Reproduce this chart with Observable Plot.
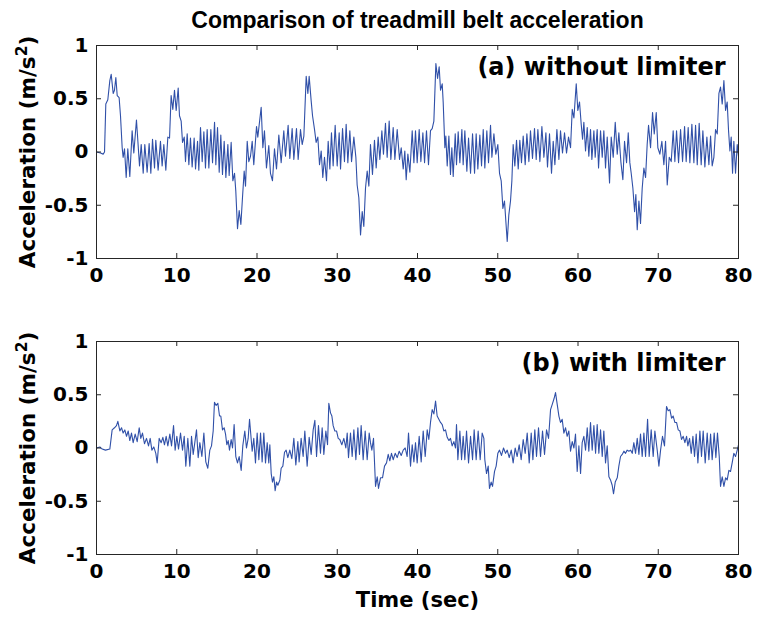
<!DOCTYPE html>
<html><head><meta charset="utf-8">
<script src="https://cdn.jsdelivr.net/npm/d3@7"></script>
<script src="https://cdn.jsdelivr.net/npm/@observablehq/plot@0.6"></script>
<style>
body{margin:0;background:#fff;}
#chart{position:relative;width:762px;height:625px;overflow:hidden;background:#fff;}
#chart svg{position:absolute;left:0;overflow:visible;}
</style></head><body><div id="chart"></div>
<script>
const title = "Comparison of treadmill belt acceleration";
const panelLabels = ["(a) without limiter", "(b) with limiter"];
const yLabelParts = ["Acceleration (m/s", "2", ")"];
const xLabel = "Time (sec)";
const xTicks = [0, 10, 20, 30, 40, 50, 60, 70, 80];
const yTicks = [-1, -0.5, 0, 0.5, 1];

// [time (s), acceleration (m/s^2)]
const withoutLimiter = [
[0,0],[0.5,-0.01],[0.83,-0.02],[1.0,0],[1.16,0.45],[1.41,0.49],[1.66,0.67],[1.83,0.73],[2.08,0.55],[2.24,0.58],
[2.41,0.70],[2.58,0.53],[2.82,0.51],[2.99,0.34],[3.2,0.04],[3.32,-0.05],[3.49,0.03],[3.7,-0.24],[3.9,0.03],[4.15,-0.23],
[4.44,0.2],[4.65,-0.01],[4.98,0.3],[5.36,-0.13],[5.57,0.07],[5.82,-0.2],[6.02,0.07],[6.31,-0.19],[6.56,0.08],[6.77,-0.2],
[6.98,0.12],[7.23,-0.15],[7.39,0.11],[7.68,-0.17],[7.97,0.1],[8.18,-0.13],[8.39,0.07],[8.64,-0.17],[8.89,0.14],[9.1,0.13],
[9.3,0.53],[9.51,0.4],[9.72,0.58],[9.93,0.39],[10.18,0.6],[10.34,0.34],[10.55,0.29],[10.72,0.09],[10.93,0.14],[11.09,-0.09],
[11.3,0.17],[11.51,-0.12],[11.71,0.13],[11.92,-0.14],[12.17,0.13],[12.34,-0.16],[12.59,0.1],[12.75,-0.17],[12.96,0.23],[13.17,-0.09],
[13.38,0.19],[13.58,-0.15],[13.79,0.21],[14.0,-0.15],[14.25,0.21],[14.46,-0.1],[14.71,0.28],[14.87,-0.12],[15.08,0.23],[15.29,-0.19],
[15.49,0.16],[15.7,-0.21],[15.91,0.1],[16.12,-0.24],[16.37,0.07],[16.53,-0.22],[16.78,0.09],[16.99,-0.27],[17.2,-0.2],[17.36,-0.37],
[17.57,-0.72],[17.78,-0.55],[17.99,-0.68],[18.19,-0.43],[18.4,-0.18],[18.57,-0.32],[18.78,0.1],[18.98,-0.09],
[19.19,-0.04],[19.4,0.1],[19.6,-0.12],[19.94,0.24],[20.1,0.14],[20.52,0.42],[20.73,0.04],[20.93,0.2],[21.18,-0.15],[21.47,0.06],
[21.68,-0.2],[21.93,-0.27],[22.18,0.03],[22.43,-0.16],[22.72,0.16],[23.01,-0.1],[23.34,0.2],[23.55,-0.04],[23.88,0.25],[24.09,-0.06],
[24.38,0.22],[24.59,-0.07],[24.92,0.22],[25.13,-0.07],[25.42,0.21],[25.63,0.07],[25.84,0.15],[26.13,0.71],[26.34,0.55],[26.5,0.71],
[26.75,0.48],[26.92,0.34],[27.17,0.21],[27.37,0.09],[27.58,0.14],[27.79,-0.12],[28.0,0.01],[28.2,-0.24],[28.41,-0.05],[28.66,-0.27],
[28.87,0.1],[29.08,-0.16],[29.28,0.18],[29.49,-0.13],[29.74,0.25],[29.99,-0.13],[30.24,0.18],[30.41,-0.16],[30.66,0.22],[30.9,-0.09],
[31.11,0.26],[31.32,-0.1],[31.57,0.2],[31.78,-0.09],[32.07,0.14],[32.32,-0.05],[32.48,-0.31],[32.69,-0.43],[32.9,-0.78],[33.11,-0.56],
[33.31,-0.7],[33.52,-0.34],[33.73,-0.18],[33.94,-0.32],[34.14,0.07],[34.39,-0.21],[34.64,0.11],[34.85,-0.15],[35.1,0.14],[35.31,-0.07],
[35.56,0.2],[35.76,-0.02],[36.01,0.27],[36.22,-0.05],[36.47,0.29],[36.68,-0.07],[36.97,0.23],[37.18,-0.07],[37.47,0.21],[37.76,-0.07],
[37.97,0.04],[38.22,-0.16],[38.42,0.01],[38.59,-0.26],[38.8,-0.02],[39.05,-0.19],
[39.34,0.2],[39.55,-0.1],[39.75,0.2],[39.96,-0.1],[40.21,0.21],[40.42,-0.09],[40.67,0.18],[40.88,-0.1],[41.12,0.2],[41.37,-0.12],
[41.62,0.2],[41.83,0.22],[42.04,0.29],[42.29,0.83],[42.5,0.69],[42.7,0.8],[42.87,0.58],[43.08,0.64],[43.2,0.47],[43.41,0.04],
[43.53,0.15],[43.7,-0.13],[43.91,0.15],[44.11,-0.21],[44.28,0.04],[44.45,-0.23],[44.7,0.17],[44.86,-0.12],[45.07,0.19],[45.28,-0.1],
[45.53,0.21],[45.69,-0.12],[45.9,0.2],[46.15,-0.18],[46.36,0.13],[46.61,-0.2],[46.86,0.17],[47.11,-0.2],[47.31,0.17],[47.52,-0.16],
[47.77,0.16],[47.98,-0.13],[48.19,0.21],[48.39,-0.15],[48.64,0.2],[48.85,-0.1],[49.1,0.25],[49.27,-0.05],[49.52,0.17],[49.76,-0.02],
[50.01,0.07],[50.22,-0.2],[50.43,-0.27],[50.64,-0.53],[50.84,-0.46],[51.18,-0.84],[51.38,-0.59],[51.59,-0.46],[51.76,-0.27],[51.92,0.07],
[52.13,-0.13],[52.34,0.11],[52.55,-0.16],[52.75,0.11],[52.96,-0.1],[53.17,0.15],[53.42,-0.12],[53.63,0.17],[53.88,-0.09],[54.08,0.2],
[54.33,-0.06],[54.58,0.22],[54.79,-0.07],[55.0,0.21],[55.25,-0.09],[55.5,0.24],[55.75,-0.05],[56.0,0.18],[56.2,-0.14],[56.45,0.17],
[56.7,-0.2],[56.91,0.1],[57.12,-0.12],[57.37,0.21],[57.62,-0.07],[57.82,0.2],[58.07,-0.01],[58.32,0.18],[58.57,-0.01],[58.82,0.14],
[59.07,0.04],
[59.28,0.4],[59.49,0.32],[59.78,0.64],[59.98,0.39],[60.19,0.47],[60.4,0.26],[60.57,0.12],[60.73,0.28],[60.94,0.01],[61.15,0.23],
[61.35,-0.04],[61.56,0.21],[61.73,-0.07],[61.98,0.2],[62.14,-0.05],[62.39,0.21],[62.56,-0.15],[62.81,0.2],[63.02,-0.05],[63.22,0.2],
[63.43,-0.15],[63.64,0.14],[63.93,-0.29],[64.14,0.14],[64.39,-0.05],[64.64,0.28],[64.89,-0.02],[65.09,0.18],[65.34,-0.09],[65.59,-0.26],
[65.8,0.1],[66.05,-0.1],[66.26,0.18],[66.46,-0.1],[66.63,-0.2],[66.84,-0.34],[67.05,-0.56],[67.21,-0.4],[67.38,-0.73],[67.59,-0.46],
[67.79,-0.67],[68.0,-0.34],[68.21,-0.15],[68.42,-0.24],[68.62,0.07],[68.79,0.25],[69.04,0.04],[69.29,0.37],[69.5,0.17],[69.75,0.37],
[69.95,0.04],[70.2,-0.02],[70.45,0.1],[70.7,-0.12],[70.91,0.1],[71.12,-0.31],[71.37,-0.05],[71.62,-0.09],[71.86,0.2],[72.07,-0.09],
[72.28,0.2],[72.53,-0.1],[72.78,0.21],[73.03,-0.09],[73.28,0.24],[73.48,-0.09],[73.73,0.23],[73.94,-0.1],[74.19,0.26],[74.44,-0.1],
[74.65,0.25],[74.86,-0.12],[75.1,0.27],[75.35,-0.12],[75.56,0.2],[75.81,-0.14],[76.06,0.14],[76.31,-0.12],[76.52,0.15],[76.72,-0.13],
[76.93,-0.05],[77.14,0.21],[77.35,0.17],[77.56,0.55],[77.76,0.61],[77.97,0.45],[78.18,0.67],[78.39,0.39],[78.59,0.47],[78.76,0.2],
[78.93,0.01],[79.09,0.14],[79.26,-0.2],[79.42,0.1],[79.63,-0.2],[79.84,0.07],[80,-0.04]
];

const withLimiter = [
[0,0],[0.42,0.01],[0.71,-0.01],[1.12,-0.02],[1.66,-0.01],[1.95,0.17],[2.24,0.19],[2.49,0.21],[2.66,0.25],[2.91,0.16],
[3.12,0.19],[3.32,0.14],[3.53,0.17],[3.74,0.11],[3.95,0.16],[4.15,0.07],[4.36,0.14],[4.57,0.05],[4.82,0.13],[5.07,0.06],
[5.32,0.19],[5.52,0.09],[5.73,0.14],[5.98,0.04],[6.23,0.09],[6.48,0.02],[6.69,0.09],[6.9,-0.02],[7.14,0.01],[7.39,-0.05],
[7.56,-0.14],[7.81,0.09],[8.06,0.05],[8.27,0.1],[8.47,0.03],[8.68,0.11],[8.89,0.02],[9.14,0.13],[9.35,0.02],[9.6,0.21],
[9.8,-0.02],[10.01,0.11],[10.22,-0.01],[10.47,0.14],[10.72,-0.02],[10.93,0.11],[11.13,-0.17],[11.38,0.09],[11.63,-0.17],[11.84,0.11],
[12.05,-0.06],[12.25,0.05],[12.46,0.17],[12.67,-0.09],[12.88,0.05],[13.13,-0.08],[13.38,0.14],[13.62,-0.13],[13.87,-0.19],[14.12,-0.02],
[14.33,0.02],[14.54,0.16],[14.7,0.43],[14.91,0.4],[15.12,0.42],[15.33,0.3],[15.49,0.3],[15.7,0.17],[15.91,0.19],[16.08,0.13],
[16.24,0.03],[16.41,0.07],[16.57,-0.02],[16.78,0.08],[16.95,0],[17.15,0.22],[17.36,-0.08],[17.57,-0.14],[17.78,-0.08],[18.03,-0.21],
[18.23,0.02],[18.48,0.16],[18.69,0],[18.9,0.09],[19.07,0.27],
[19.4,-0.03],[19.6,0.09],[19.81,-0.14],[20.02,0.14],[20.23,-0.11],[20.44,0.14],[20.64,-0.13],[20.85,0.14],[21.06,-0.14],[21.27,0.05],
[21.47,-0.14],[21.6,0.03],[21.77,-0.24],[21.93,-0.32],[22.1,-0.27],[22.26,-0.4],[22.43,-0.32],[22.6,-0.35],[22.85,-0.3],[23.01,-0.19],
[23.22,-0.17],[23.43,-0.04],[23.63,-0.02],[23.84,-0.09],[24.09,-0.02],[24.34,-0.1],[24.59,0.09],[24.84,-0.16],[25.09,0.06],[25.25,-0.13],
[25.5,0.09],[25.75,-0.08],[25.96,0.16],[26.25,-0.17],[26.5,0.1],[26.75,-0.06],[27.0,0.17],[27.21,0.26],[27.42,-0.08],[27.66,0.21],
[27.91,-0.05],[28.12,0.19],[28.33,-0.06],[28.58,0.16],[28.79,0.03],[28.95,0.42],[29.16,0.33],[29.33,0.3],[29.49,0.21],[29.7,0.16],
[29.91,0.16],[30.12,0.09],[30.32,0.08],[30.57,0.03],[30.82,0.09],[31.07,0],[31.24,0.14],[31.4,-0.09],[31.65,0.14],[31.86,-0.08],
[32.07,0.17],[32.32,-0.11],[32.57,0.19],[32.77,-0.06],[32.98,0.21],[33.23,-0.11],[33.48,0.16],[33.73,-0.11],[33.98,0.14],[34.14,0.05],
[34.31,-0.02],[34.52,0.09],[34.77,-0.36],[34.98,-0.27],[35.14,-0.38],[35.39,-0.28],[35.64,-0.28],[35.89,-0.17],[36.14,-0.14],[36.35,-0.06],
[36.55,-0.12],[36.76,-0.05],[36.97,-0.11],[37.22,-0.05],[37.47,-0.09],[37.72,-0.03],[37.97,-0.07],[38.22,-0.02],[38.47,0],[38.71,-0.08],
[38.88,0.14],
[39.13,-0.17],[39.34,0.03],[39.55,-0.13],[39.75,0.05],[39.96,-0.14],[40.21,0.11],[40.46,-0.13],[40.71,0.16],[40.96,-0.08],[41.21,0.17],
[41.41,0.08],[41.62,0.24],[41.83,0.36],[42.04,0.32],[42.25,0.44],[42.45,0.3],[42.66,0.27],[42.87,0.24],[43.08,0.22],[43.28,0.16],
[43.49,0.17],[43.7,0.1],[43.91,0.07],[44.11,0.09],[44.32,0.02],[44.53,0.06],[44.74,0],[44.86,0.22],[45.03,-0.11],[45.28,0.16],
[45.49,-0.11],[45.69,0.11],[45.9,-0.11],[46.11,0.16],[46.36,-0.14],[46.61,0.11],[46.86,-0.11],[47.06,0.17],[47.31,-0.11],[47.56,0.16],
[47.81,-0.11],[48.06,0.14],[48.27,0.09],[48.39,-0.11],[48.6,-0.24],[48.81,-0.17],[48.97,-0.38],[49.18,-0.32],[49.35,-0.36],[49.6,-0.22],
[49.8,-0.17],[50.01,-0.05],[50.22,-0.02],[50.47,-0.07],[50.72,0],[50.97,-0.05],[51.18,-0.02],[51.43,-0.09],[51.68,-0.02],[51.92,-0.14],
[52.17,0],[52.42,-0.08],[52.67,0.03],[52.92,-0.11],[53.17,0.08],[53.42,-0.05],[53.67,0.14],[53.92,-0.14],[54.17,0.14],[54.38,-0.11],
[54.62,0.17],[54.83,-0.08],[55.08,0.19],[55.33,-0.08],[55.58,0.16],[55.83,-0.06],[56.08,0.17],[56.33,0.09],[56.58,0.36],[56.79,0.41],
[57.0,0.46],[57.2,0.52],[57.41,0.41],[57.62,0.3],[57.82,0.24],[58.03,0.27],[58.24,0.14],[58.45,0.19],[58.65,0.11],[58.86,0.16],
[59.07,-0.03],[59.28,0.06],[59.49,0],[59.69,0.13],[59.9,-0.22],[60.11,0.02],[60.32,-0.24],[60.52,0.05],[60.73,0.11],[60.94,-0.02],
[61.15,0.19],[61.35,-0.03],[61.56,0.24],[61.77,-0.02],[61.98,0.21],[62.19,-0.05],[62.39,0.22],[62.6,-0.05],[62.81,0.17],[63.02,-0.08],
[63.22,0.16],[63.43,-0.14],[63.64,0.02],[63.85,-0.27],[64.05,-0.3],[64.26,-0.35],[64.43,-0.43],[64.64,-0.32],[64.89,-0.28],[65.09,-0.17],
[65.3,-0.08],[65.51,-0.06],[65.72,-0.03],[65.92,-0.05],[66.13,-0.02],[66.34,-0.03],[66.55,-0.02],[66.76,-0.05],[66.96,0.05],[67.17,-0.05],
[67.38,0.09],[67.59,-0.06],[67.79,0.13],[68.0,-0.08],[68.21,0.14],[68.42,-0.08],[68.67,0.27],[68.87,-0.08],[69.12,0.17],[69.37,-0.08],
[69.58,0.16],[69.87,-0.02],[70.08,-0.17],[70.29,-0.02],[70.53,0.11],[70.78,0.02],[71.03,0.39],[71.24,0.35],[71.45,0.36],[71.66,0.28],
[71.86,0.3],[72.07,0.24],[72.28,0.24],[72.49,0.17],[72.7,0.16],[72.9,0.08],[73.11,0.11],[73.32,0.05],[73.53,0.11],[73.69,0.02],
[73.9,0.09],[74.11,-0.05],[74.32,0.11],[74.52,-0.08],[74.73,0.13],[74.94,-0.14],[75.19,0.16],[75.39,-0.08],[75.6,0.16],[75.85,-0.14],
[76.1,0.14],[76.31,-0.11],[76.52,0.13],[76.72,-0.11],[76.97,0.14],[77.18,-0.09],[77.38,0.14],[77.6,-0.08],[77.76,-0.36],[77.97,-0.27],
[78.18,-0.36],[78.39,-0.28],[78.59,-0.3],[78.8,-0.21],[79.01,-0.22],[79.21,-0.14],[79.42,-0.05],[79.63,-0.08],[79.84,-0.02],[80,0.03]
];

const W = 762, ML = 96, MR = 24;
const lineColor = "#3050a8";
const axisColor = "#262626";
const mainFont = "'DejaVu Sans', sans-serif";
const titleFont = "'Liberation Sans', Arial, sans-serif";
const yLabelText = yLabelParts.join("");

function panel({data, label, height, marginTop, marginBottom, extras}) {
  const innerH = height - marginTop - marginBottom;
  const innerW = W - ML - MR;
  return Plot.plot({
    width: W, height, marginLeft: ML, marginRight: MR, marginTop, marginBottom,
    style: {fontFamily: mainFont, fontWeight: "bold", fontSize: "20px", color: "#000", background: "transparent", overflow: "visible"},
    x: {domain: [0, 80]},
    y: {domain: [-1, 1]},
    marks: [
      Plot.line(data, {x: d => d[0], y: d => d[1], stroke: lineColor, strokeWidth: 1.1}),
      Plot.frame({stroke: axisColor, strokeWidth: 1}),
      Plot.tickX(xTicks, {x: d => d, stroke: axisColor, insetTop: innerH - 5}),
      Plot.tickX(xTicks, {x: d => d, stroke: axisColor, insetBottom: innerH - 5}),
      Plot.tickY(yTicks, {y: d => d, stroke: axisColor, insetRight: innerW - 5}),
      Plot.tickY(yTicks, {y: d => d, stroke: axisColor, insetLeft: innerW - 5}),
      Plot.axisX({ticks: xTicks, tickSize: 0, tickPadding: 9, tickFormat: d => String(d), label: null, fill: "#000"}),
      Plot.axisY({ticks: yTicks, tickSize: 0, tickPadding: 8, tickFormat: d => String(d), label: null, fill: "#000"}),
      Plot.text([yLabelText], {frameAnchor: "left", dx: -68, rotate: -90, textAnchor: "middle", lineAnchor: "middle", fontSize: 21.5, fill: "#000"}),
      Plot.text([label], {frameAnchor: "top-right", dx: -13, dy: 12, textAnchor: "end", lineAnchor: "top", fontSize: 24, fill: "#000"}),
      ...extras
    ]
  });
}

function superscript(svg) {
  d3.select(svg).selectAll("text")
    .filter(function () { return this.textContent === yLabelText; })
    .each(function () {
      const t = d3.select(this);
      t.text(null);
      t.append("tspan").text(yLabelParts[0]);
      t.append("tspan").attr("dy", "-0.55em").attr("font-size", "0.72em").text(yLabelParts[1]);
      t.append("tspan").attr("dy", "0.4em").text(yLabelParts[2]);
    });
}

const chart = document.getElementById("chart");

const svgA = panel({
  data: withoutLimiter, label: panelLabels[0], height: 300, marginTop: 45, marginBottom: 42,
  extras: [Plot.text([title], {frameAnchor: "top", dy: -25, lineAnchor: "middle", fontFamily: titleFont, fontSize: 23, fill: "#000"})]
});
svgA.style.top = "0px";
superscript(svgA);
chart.appendChild(svgA);

const svgB = panel({
  data: withLimiter, label: panelLabels[1], height: 325, marginTop: 41, marginBottom: 71,
  extras: [Plot.text([xLabel], {frameAnchor: "bottom", dy: 46, lineAnchor: "middle", fontSize: 21, fill: "#000"})]
});
svgB.style.top = "300px";
superscript(svgB);
chart.appendChild(svgB);
</script></body></html>
